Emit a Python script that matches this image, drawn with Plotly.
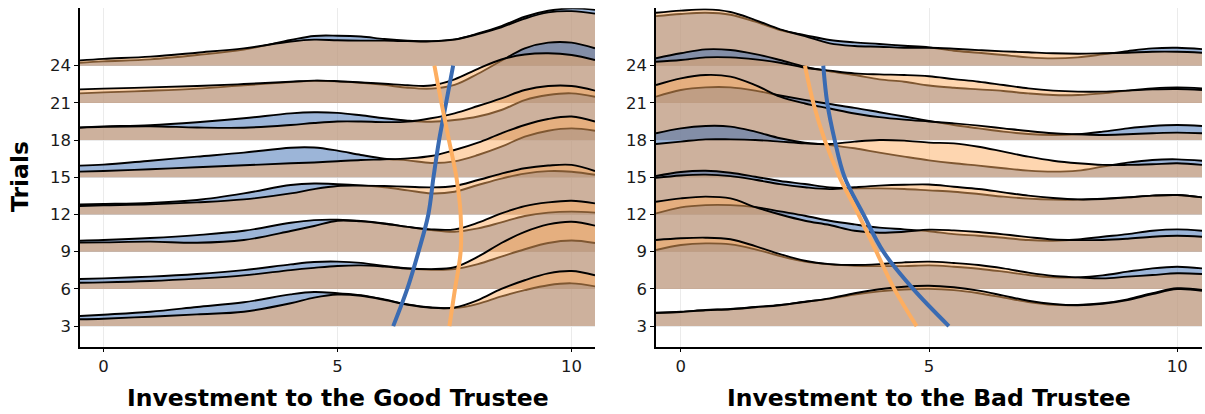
import plotly.graph_objects as go

# Trial blocks (ridge baselines), top to bottom
trials = [24, 21, 18, 15, 12, 9, 6, 3]
y_ticks = [3, 6, 9, 12, 15, 18, 21, 24]

# Investment grid for each panel
x_good = [-0.5, 0, 1, 2, 3, 4, 4.5, 5, 5.5, 6, 6.5, 7, 7.5, 8, 8.5, 9, 9.5, 10, 10.5]
x_bad = [-0.5, 0, 0.5, 1, 1.5, 2, 2.5, 3, 3.5, 4, 4.5, 5, 5.5, 6, 6.5, 7, 7.5, 8,
         8.5, 9, 9.5, 10, 10.5]

# Ridge heights (density, in trial units above each baseline) - good trustee
good_blue = {
    24: [0.24, 0.35, 0.51, 0.86, 1.3, 2.07, 2.4, 2.42, 2.35, 2.15, 2.02, 1.98, 2.12, 2.6, 3.2, 3.95, 4.43, 4.62, 4.5],
    21: [0.77, 0.85, 0.98, 1.15, 1.42, 1.68, 1.78, 1.74, 1.62, 1.45, 1.22, 1.15, 1.45, 2.35, 3.4, 4.4, 4.86, 4.86, 4.4],
    18: [1.03, 1.1, 1.2, 1.44, 1.76, 2.16, 2.25, 2.2, 2.0, 1.76, 1.57, 1.48, 1.62, 1.9, 2.43, 3.23, 3.64, 3.77, 3.5],
    15: [0.94, 1.02, 1.34, 1.67, 1.99, 2.39, 2.4, 2.15, 1.8, 1.5, 1.37, 1.16, 1.29, 1.8, 2.47, 3.28, 3.76, 3.95, 3.76],
    12: [0.82, 0.85, 0.93, 1.17, 1.7, 2.38, 2.5, 2.45, 2.35, 2.2, 1.95, 1.7, 1.84, 2.38, 2.9, 3.3, 3.5, 3.45, 3.2],
    9: [0.89, 0.94, 1.1, 1.34, 1.69, 2.34, 2.55, 2.58, 2.48, 2.28, 2.0, 1.75, 1.61, 1.88, 2.37, 2.88, 3.15, 3.23, 3.15],
    6: [0.8, 0.85, 0.99, 1.2, 1.52, 1.98, 2.17, 2.2, 2.1, 1.85, 1.65, 1.55, 1.6, 2.0, 2.6, 3.2, 3.7, 3.9, 3.7],
    3: [0.81, 0.92, 1.16, 1.54, 1.92, 2.56, 2.75, 2.65, 2.5, 2.15, 1.75, 1.5, 1.45, 1.8, 2.4, 2.9, 3.3, 3.45, 3.2],
}
good_orange = {
    24: [0.43, 0.55, 0.73, 1.05, 1.4, 1.95, 2.1, 2.05, 2.02, 2.02, 1.98, 1.96, 2.1, 2.55, 3.1, 3.8, 4.3, 4.4, 4.2],
    21: [1.09, 1.15, 1.25, 1.36, 1.52, 1.71, 1.8, 1.75, 1.65, 1.55, 1.42, 1.4, 1.9, 2.75, 3.5, 3.9, 4.0, 3.86, 3.46],
    18: [1.0, 1.07, 1.12, 1.02, 1.0, 1.22, 1.38, 1.5, 1.5, 1.45, 1.49, 1.76, 2.16, 2.75, 3.37, 4.04, 4.36, 4.36, 3.99],
    15: [0.46, 0.51, 0.65, 0.81, 0.97, 1.13, 1.2, 1.3, 1.4, 1.45, 1.53, 1.72, 2.2, 2.8, 3.55, 4.22, 4.7, 4.9, 4.5],
    12: [0.69, 0.74, 0.82, 0.98, 1.22, 1.7, 2.05, 2.3, 2.33, 2.3, 2.24, 2.19, 2.3, 2.78, 3.3, 3.73, 3.95, 4.0, 3.5],
    9: [0.73, 0.75, 0.81, 0.72, 0.94, 1.67, 2.07, 2.5, 2.45, 2.26, 2.0, 1.8, 1.8, 2.34, 3.09, 3.68, 3.98, 4.11, 3.9],
    6: [0.5, 0.53, 0.64, 0.83, 1.09, 1.52, 1.7, 1.85, 1.9, 1.8, 1.65, 1.6, 1.75, 2.6, 3.7, 4.6, 5.2, 5.42, 5.1],
    3: [0.55, 0.6, 0.76, 0.95, 1.16, 1.84, 2.3, 2.55, 2.45, 2.12, 1.72, 1.48, 1.5, 2.1, 3.0, 3.7, 4.25, 4.44, 4.1],
}

# Ridge heights - bad trustee
bad_blue = {
    24: [4.0, 4.17, 4.27, 4.11, 3.55, 2.88, 2.47, 2.07, 1.88, 1.75, 1.61, 1.48, 1.21, 1.05, 0.86, 0.67, 0.59, 0.67, 0.91, 1.18, 1.4, 1.45, 1.34],
    21: [3.6, 4.0, 4.32, 4.27, 3.94, 3.46, 2.92, 2.55, 2.25, 1.9, 1.71, 1.4, 1.22, 1.09, 0.96, 0.77, 0.64, 0.64, 0.77, 0.99, 1.17, 1.25, 1.17],
    18: [3.5, 4.04, 4.25, 4.25, 3.99, 3.6, 3.24, 2.91, 2.6, 2.25, 1.9, 1.55, 1.22, 0.95, 0.68, 0.49, 0.41, 0.47, 0.68, 0.95, 1.14, 1.22, 1.14],
    15: [3.55, 3.95, 4.14, 4.09, 3.68, 3.15, 2.8, 2.6, 2.34, 1.99, 1.67, 1.37, 1.13, 0.94, 0.73, 0.54, 0.46, 0.54, 0.86, 1.18, 1.4, 1.45, 1.34],
    12: [3.1, 3.43, 3.53, 3.37, 3.05, 2.7, 2.46, 2.19, 2.11, 2.11, 2.06, 1.95, 1.84, 1.65, 1.44, 1.28, 1.2, 1.2, 1.28, 1.38, 1.52, 1.57, 1.38],
    9: [3.09, 3.58, 3.76, 3.76, 3.6, 3.25, 2.9, 2.5, 2.2, 1.94, 1.8, 1.65, 1.42, 1.29, 1.13, 0.94, 0.89, 0.99, 1.21, 1.42, 1.69, 1.8, 1.69],
    6: [3.14, 3.54, 3.67, 3.59, 3.19, 2.65, 2.2, 1.98, 1.87, 1.84, 1.84, 1.9, 1.79, 1.63, 1.39, 1.12, 0.93, 0.93, 1.09, 1.39, 1.66, 1.79, 1.66],
    3: [1.08, 1.16, 1.3, 1.38, 1.54, 1.7, 1.97, 2.2, 2.55, 2.8, 2.95, 3.0, 2.9, 2.65, 2.3, 1.95, 1.72, 1.7, 1.84, 2.16, 2.65, 3.05, 2.92],
}
bad_orange = {
    24: [4.27, 4.44, 4.54, 4.33, 3.68, 2.93, 2.39, 1.8, 1.59, 1.53, 1.45, 1.45, 1.37, 1.26, 1.16, 1.08, 1.0, 0.97, 1.0, 1.05, 1.13, 1.13, 1.05],
    21: [3.32, 3.46, 3.67, 3.67, 3.51, 3.24, 2.84, 2.6, 2.38, 2.3, 2.25, 2.15, 1.92, 1.71, 1.44, 1.17, 0.99, 0.91, 0.91, 0.99, 1.09, 1.12, 1.04],
    18: [4.44, 4.98, 5.25, 5.12, 4.44, 3.5, 2.95, 2.55, 2.15, 1.85, 1.65, 1.5, 1.35, 1.17, 0.95, 0.73, 0.55, 0.47, 0.41, 0.47, 0.55, 0.6, 0.55],
    15: [2.69, 2.88, 3.06, 3.06, 3.01, 2.88, 2.74, 2.69, 2.88, 3.01, 2.96, 2.8, 2.74, 2.47, 2.07, 1.67, 1.34, 1.13, 1.0, 1.0, 1.05, 1.13, 1.0],
    12: [2.95, 3.15, 3.22, 3.1, 2.8, 2.45, 2.2, 2.05, 2.2, 2.33, 2.4, 2.42, 2.24, 2.06, 1.79, 1.52, 1.33, 1.22, 1.25, 1.38, 1.52, 1.57, 1.38],
    9: [4.03, 4.3, 4.44, 4.3, 3.6, 3.0, 2.5, 2.15, 1.69, 1.53, 1.61, 1.78, 1.72, 1.59, 1.4, 1.18, 0.99, 0.94, 0.94, 1.05, 1.21, 1.29, 1.21],
    6: [3.94, 4.08, 4.13, 4.0, 3.45, 2.81, 2.27, 2.0, 1.93, 2.0, 2.14, 2.2, 2.09, 1.93, 1.66, 1.31, 1.04, 0.93, 0.85, 0.99, 1.12, 1.26, 1.2],
    3: [1.06, 1.14, 1.28, 1.36, 1.52, 1.68, 1.95, 2.24, 2.65, 2.97, 3.18, 3.26, 3.13, 2.86, 2.46, 2.05, 1.78, 1.68, 1.8, 2.1, 2.58, 2.98, 2.85],
}

# Smoothed mean investment per trial
mean_trials = [3, 6, 9, 12, 15, 18, 21, 24]
good_blue_mean = [6.19, 6.49, 6.73, 6.94, 7.05, 7.17, 7.32, 7.47]
good_orange_mean = [7.39, 7.51, 7.63, 7.63, 7.54, 7.38, 7.22, 7.07]
bad_blue_mean = [5.4, 4.68, 4.08, 3.68, 3.3, 3.1, 2.95, 2.87]
bad_orange_mean = [4.75, 4.3, 3.94, 3.58, 3.2, 2.9, 2.67, 2.5]

BLUE = "rgb(58,107,178)"
ORANGE = "rgb(253,174,97)"
BLUE_FILL = "rgba(58,107,178,0.5)"
ORANGE_FILL = "rgba(253,174,97,0.5)"

fig = go.Figure()


def add_ridges(xs, blue, orange, xa, ya):
    for t in trials:
        for heights, fill in ((blue[t], BLUE_FILL), (orange[t], ORANGE_FILL)):
            # baseline for the fill
            fig.add_trace(go.Scatter(
                x=xs, y=[t] * len(xs), mode="lines", line=dict(width=0),
                hoverinfo="skip", showlegend=False, xaxis=xa, yaxis=ya))
            fig.add_trace(go.Scatter(
                x=xs, y=[t + h for h in heights], mode="lines",
                line=dict(color="black", width=1.9, shape="spline", smoothing=1),
                fill="tonexty", fillcolor=fill,
                hoverinfo="skip", showlegend=False, xaxis=xa, yaxis=ya))


def add_means(bmean, omean, xa, ya):
    for vals, col in ((bmean, BLUE), (omean, ORANGE)):
        fig.add_trace(go.Scatter(
            x=vals, y=mean_trials, mode="lines",
            line=dict(color=col, width=4, shape="spline", smoothing=1),
            hoverinfo="skip", showlegend=False, xaxis=xa, yaxis=ya))


add_ridges(x_good, good_blue, good_orange, "x", "y")
add_ridges(x_bad, bad_blue, bad_orange, "x2", "y2")
add_means(good_blue_mean, good_orange_mean, "x", "y")
add_means(bad_blue_mean, bad_orange_mean, "x2", "y2")

W, H = 1205, 414
FONT = "DejaVu Sans"

xcommon = dict(range=[-0.5, 10.5], tickvals=[0, 5, 10], showline=True,
               linecolor="black", linewidth=1.5, ticks="outside", ticklen=4,
               tickcolor="black", showgrid=True, gridcolor="#EBEBEB", gridwidth=1,
               zeroline=False, tickfont=dict(family=FONT, size=16.5, color="#1a1a1a"))
ycommon = dict(range=[1.34, 28.63], tickvals=y_ticks, showline=True,
               linecolor="black", linewidth=1.5, ticks="outside", ticklen=4,
               tickcolor="black", showgrid=True, gridcolor="#EBEBEB", gridwidth=1,
               zeroline=False, tickfont=dict(family=FONT, size=16.5, color="#1a1a1a"),
               domain=[1 - 346.7 / H, 1 - 8.3 / H])

fig.update_layout(
    width=W, height=H,
    margin=dict(l=0, r=0, t=0, b=0),
    paper_bgcolor="white", plot_bgcolor="white",
    xaxis=dict(domain=[80 / W, 595 / W], anchor="y", **xcommon),
    yaxis=dict(anchor="x", **ycommon),
    xaxis2=dict(domain=[656 / W, 1202 / W], anchor="y2", **xcommon),
    yaxis2=dict(anchor="x2", **ycommon),
    annotations=[
        dict(text="<b>Investment to the Good Trustee</b>", xref="paper", yref="paper",
             x=(80 + 595) / 2 / W, y=1 - 398 / H, xanchor="center", yanchor="middle",
             showarrow=False, font=dict(family=FONT, size=23.5, color="black")),
        dict(text="<b>Investment to the Bad Trustee</b>", xref="paper", yref="paper",
             x=(656 + 1202) / 2 / W, y=1 - 398 / H, xanchor="center", yanchor="middle",
             showarrow=False, font=dict(family=FONT, size=23.5, color="black")),
        dict(text="<b>Trials</b>", xref="paper", yref="paper",
             x=20 / W, y=1 - 177 / H, xanchor="center", yanchor="middle",
             textangle=-90, showarrow=False,
             font=dict(family=FONT, size=23.5, color="black")),
    ],
)

fig.write_html("out.html")
